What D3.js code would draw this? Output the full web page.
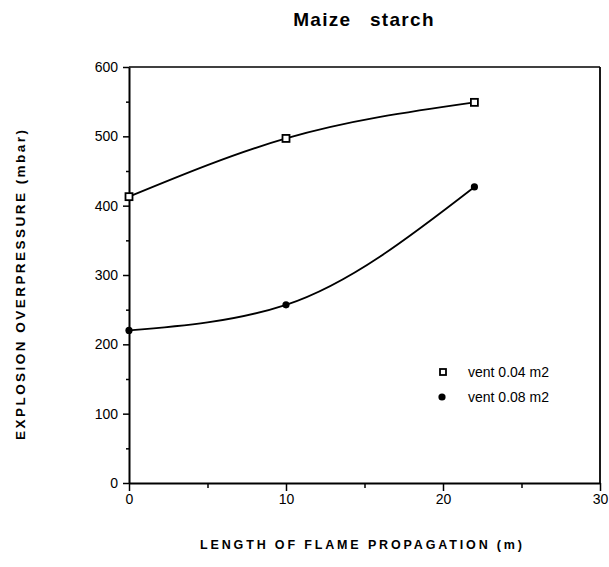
<!DOCTYPE html>
<html>
<head>
<meta charset="utf-8">
<script src="https://cdn.jsdelivr.net/npm/d3@7"></script>
<style>
  body { margin: 0; background: #fff; }
  svg { font-family: "Liberation Sans", Arial, sans-serif; }
</style>
</head>
<body>
<svg id="chart" width="609" height="567"></svg>
<script>
// data
var lengths = [0, 10, 22];                 // m
var vent004 = [413, 497, 549];             // mbar, open squares
var vent008 = [220, 257, 427];             // mbar, filled dots
var seriesNames = ["vent 0.04 m2", "vent 0.08 m2"];
var xTicks = [0, 10, 20, 30];
var yTicks = [0, 100, 200, 300, 400, 500, 600];

var svg = d3.select("#chart");

var x = d3.scaleLinear().domain([0, 30]).range([129, 600]);
var y = d3.scaleLinear().domain([0, 600]).range([483, 67]);

// frame: top and right lines
svg.append("line")
    .attr("x1", x(0)).attr("x2", x(30))
    .attr("y1", y(600)).attr("y2", y(600))
    .attr("stroke", "#000").attr("stroke-width", 1.6);
svg.append("line")
    .attr("x1", x(30)).attr("x2", x(30))
    .attr("y1", y(600)).attr("y2", y(0))
    .attr("stroke", "#000").attr("stroke-width", 1.8);

// minor ticks
svg.append("g")
    .attr("transform", "translate(" + x(0) + ",0)")
    .call(d3.axisLeft(y).tickValues(d3.range(50, 600, 100)).tickSize(3).tickFormat(""))
    .call(function (g) { g.select(".domain").remove(); });
svg.append("g")
    .attr("transform", "translate(0," + y(0) + ")")
    .call(d3.axisBottom(x).tickValues([5, 15, 25]).tickSize(5).tickFormat(""))
    .call(function (g) { g.select(".domain").remove(); });

// major axes
var yAxis = svg.append("g")
    .attr("transform", "translate(" + x(0) + ",0)")
    .call(d3.axisLeft(y).tickValues(yTicks).tickSize(6).tickSizeOuter(0).tickPadding(5));
var xAxis = svg.append("g")
    .attr("transform", "translate(0," + y(0) + ")")
    .call(d3.axisBottom(x).tickValues(xTicks).tickSize(8).tickSizeOuter(0).tickPadding(3));

svg.selectAll(".tick line").attr("stroke", "#000").attr("stroke-width", 1.5);
svg.selectAll(".domain").attr("stroke", "#000").attr("stroke-width", 2);
svg.selectAll(".tick text")
    .attr("fill", "#000")
    .style("font-size", "14px")
    .style("font-family", "'Liberation Sans', Arial, sans-serif");

// curves
var line = d3.line()
    .x(function (d) { return x(d[0]); })
    .y(function (d) { return y(d[1]); })
    .curve(d3.curveMonotoneX);

var pts1 = lengths.map(function (v, i) { return [v, vent004[i]]; });
var pts2 = lengths.map(function (v, i) { return [v, vent008[i]]; });

svg.append("path").datum(pts1).attr("d", line)
    .attr("fill", "none").attr("stroke", "#000").attr("stroke-width", 1.8);
svg.append("path").datum(pts2).attr("d", line)
    .attr("fill", "none").attr("stroke", "#000").attr("stroke-width", 1.8);

// markers
svg.selectAll("rect.m1").data(pts1).enter().append("rect")
    .attr("class", "m1")
    .attr("x", function (d) { return x(d[0]) - 3.5; })
    .attr("y", function (d) { return y(d[1]) - 3.5; })
    .attr("width", 7).attr("height", 7)
    .attr("fill", "#fff").attr("stroke", "#000").attr("stroke-width", 1.8);
svg.selectAll("circle.m2").data(pts2).enter().append("circle")
    .attr("class", "m2")
    .attr("cx", function (d) { return x(d[0]); })
    .attr("cy", function (d) { return y(d[1]); })
    .attr("r", 3.6)
    .attr("fill", "#000");

// legend
var leg = svg.append("g");
leg.append("rect")
    .attr("x", 440).attr("y", 369).attr("width", 6).attr("height", 6)
    .attr("fill", "#fff").attr("stroke", "#000").attr("stroke-width", 1.8);
leg.append("circle")
    .attr("cx", 442).attr("cy", 397).attr("r", 3.6).attr("fill", "#000");
leg.selectAll("text").data(seriesNames).enter().append("text")
    .attr("x", 468)
    .attr("y", function (d, i) { return 377 + i * 25; })
    .style("font-size", "14px")
    .text(function (d) { return d; });

// title and axis labels
svg.append("text")
    .attr("x", 364).attr("y", 26)
    .attr("text-anchor", "middle")
    .style("font-size", "19px").style("font-weight", "bold")
    .style("letter-spacing", "1.3px").style("word-spacing", "12px")
    .text("Maize starch");

svg.append("text")
    .attr("x", 361).attr("y", 549)
    .attr("text-anchor", "middle")
    .attr("textLength", 322).attr("lengthAdjust", "spacing")
    .style("font-size", "12.5px").style("font-weight", "bold")
    .text("LENGTH  OF  FLAME  PROPAGATION  (m)");

svg.append("text")
    .attr("transform", "translate(25,285) rotate(-90)")
    .attr("text-anchor", "middle")
    .attr("textLength", 310).attr("lengthAdjust", "spacing")
    .style("font-size", "13.5px").style("font-weight", "bold")
    .text("EXPLOSION  OVERPRESSURE  (mbar)");
</script>
</body>
</html>
